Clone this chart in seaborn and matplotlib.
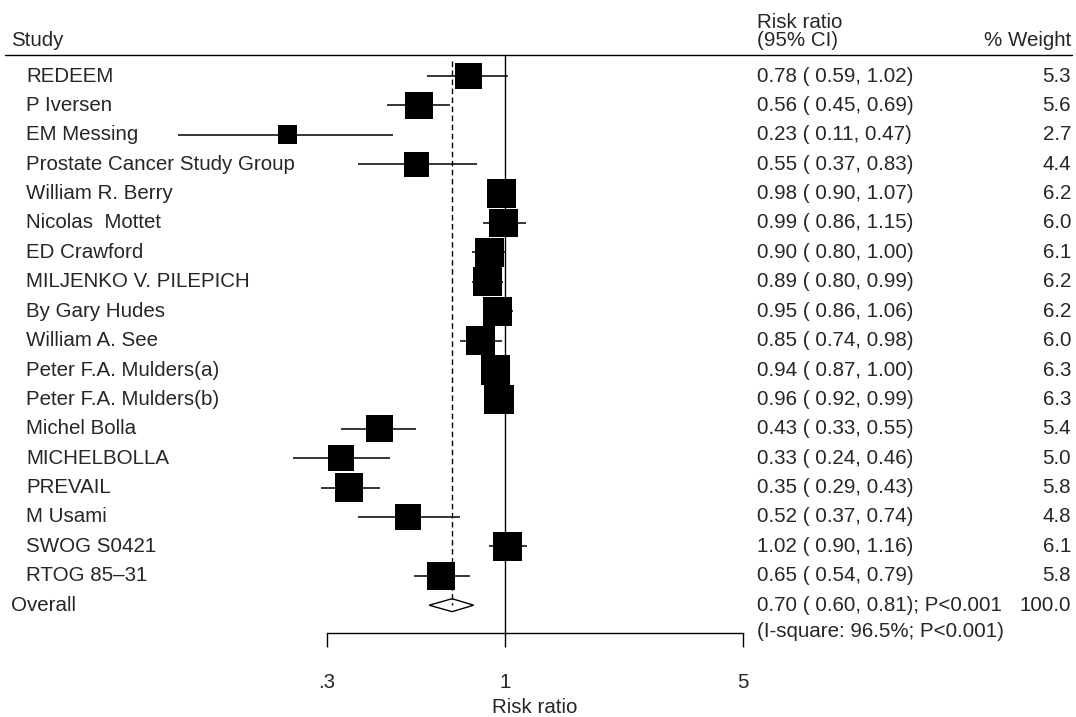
import numpy as np
import pandas as pd
import matplotlib
matplotlib.use("Agg")
import matplotlib.pyplot as plt
import matplotlib.transforms as mtransforms
from matplotlib.ticker import NullLocator, FixedLocator, FixedFormatter
import seaborn as sns

# ---------------- data ----------------
studies = ["REDEEM", "P Iversen", "EM Messing", "Prostate Cancer Study Group",
           "William R. Berry", "Nicolas  Mottet", "ED Crawford",
           "MILJENKO V. PILEPICH", "By Gary Hudes", "William A. See",
           "Peter F.A. Mulders(a)", "Peter F.A. Mulders(b)", "Michel Bolla",
           "MICHELBOLLA", "PREVAIL", "M Usami", "SWOG S0421", "RTOG 85\u201331"]
rr = [0.78, 0.56, 0.23, 0.55, 0.98, 0.99, 0.90, 0.89, 0.95, 0.85, 0.94, 0.96,
      0.43, 0.33, 0.35, 0.52, 1.02, 0.65]
ci_low = [0.59, 0.45, 0.11, 0.37, 0.90, 0.86, 0.80, 0.80, 0.86, 0.74, 0.87, 0.92,
          0.33, 0.24, 0.29, 0.37, 0.90, 0.54]
ci_high = [1.02, 0.69, 0.47, 0.83, 1.07, 1.15, 1.00, 0.99, 1.06, 0.98, 1.00, 0.99,
           0.55, 0.46, 0.43, 0.74, 1.16, 0.79]
weights = [5.3, 5.6, 2.7, 4.4, 6.2, 6.0, 6.1, 6.2, 6.2, 6.0, 6.3, 6.3,
           5.4, 5.0, 5.8, 4.8, 6.1, 5.8]
overall_rr = 0.70
overall_low = 0.60
overall_high = 0.81
overall_p = "P<0.001"
overall_weight = "100.0"
heterogeneity = "(I-square: 96.5%; P<0.001)"
xtick_values = [0.3, 1, 5]
xtick_labels = [".3", "1", "5"]

# ---------------- style ----------------
sns.set_theme(style="white")
plt.rcParams['font.family'] = ['Liberation Sans', 'DejaVu Sans']
FS = 14.8

W, H = 1076, 717
fig = plt.figure(figsize=(W / 100, H / 100), dpi=100)

# axes geometry in pixels
x_left, x_right = 326.5, 743.3
y_top, y_bot = 55.0, 633.0
row0_y, row_step = 76.0, 29.4
ax = fig.add_axes([x_left / W, 1 - y_bot / H, (x_right - x_left) / W, (y_bot - y_top) / H])
ax.set_xscale("log")
ax.set_xlim(xtick_values[0], xtick_values[-1])
ylim_top = (y_top - row0_y) / row_step
ylim_bot = (y_bot - row0_y) / row_step
ax.set_ylim(ylim_bot, ylim_top)

n = len(studies)
rows = np.arange(n)
overall_row = n

df = pd.DataFrame({"study": studies, "rr": rr, "low": ci_low, "high": ci_high,
                   "weight": weights, "row": rows})

# reference line at 1
ax.axvline(1, color="black", lw=1.0, zorder=1)
# dashed line at overall estimate
ax.vlines(overall_rr, -0.5, overall_row, colors="black", lw=1.0,
          linestyles=(0, (4, 2.5)), zorder=2)

# CI lines
ax.hlines(df["row"], df["low"], df["high"], colors="black", lw=1.1, zorder=2,
          clip_on=False)

# squares (area proportional to weight)
k = 71.3
sns.scatterplot(data=df, x="rr", y="row", size="weight",
                sizes=(k * min(weights), k * max(weights)),
                size_norm=(min(weights), max(weights)),
                marker="s", color="black", edgecolor="none", linewidth=0,
                legend=False, ax=ax, zorder=3, clip_on=False)

# overall diamond
h = 0.22
ax.fill([overall_low, overall_rr, overall_high, overall_rr],
        [overall_row, overall_row - h, overall_row, overall_row + h],
        facecolor="white", edgecolor="black", lw=1.0, zorder=1.5)

# axis styling
for s in ["left", "right", "top"]:
    ax.spines[s].set_visible(False)
ax.spines["bottom"].set_color("black")
ax.spines["bottom"].set_linewidth(1.0)
ax.xaxis.set_major_locator(FixedLocator(xtick_values))
ax.xaxis.set_major_formatter(FixedFormatter(xtick_labels))
ax.xaxis.set_minor_locator(NullLocator())
ax.tick_params(axis="x", which="major", direction="out", length=10, width=1.0,
               color="black", pad=19, labelsize=FS, bottom=True)
ax.set_yticks([])
ax.set_xlabel("Risk ratio", fontsize=FS, labelpad=4)
ax.set_ylabel("")
ax.patch.set_alpha(0)

# text columns
tr = mtransforms.blended_transform_factory(fig.transFigure, ax.transData)
def px(x):
    return x / W

hdr_row2 = (40 - row0_y) / row_step
hdr_base = (50 - row0_y) / row_step
ax.text(px(11), hdr_row2, "Study", transform=tr, fontsize=FS, va="center", ha="left")
ax.text(px(757), hdr_base, "Risk ratio\n(95% CI)", transform=tr, fontsize=FS,
        va="bottom", ha="left", linespacing=0.9)
ax.text(px(1071), hdr_row2, "% Weight", transform=tr, fontsize=FS, va="center", ha="right")
ax.plot([px(5), px(1072)], [ylim_top, ylim_top], transform=tr, color="black",
        lw=1.0, clip_on=False)

for i, r in df.iterrows():
    ax.text(px(26), r["row"], r["study"], transform=tr, fontsize=FS, va="center", ha="left")
    ax.text(px(757), r["row"], f"{r['rr']:.2f} ( {r['low']:.2f}, {r['high']:.2f})",
            transform=tr, fontsize=FS, va="center", ha="left")
    ax.text(px(1071), r["row"], f"{r['weight']:.1f}", transform=tr, fontsize=FS,
            va="center", ha="right")

ax.text(px(11), overall_row, "Overall", transform=tr, fontsize=FS, va="center", ha="left")
ax.text(px(757), overall_row,
        f"{overall_rr:.2f} ( {overall_low:.2f}, {overall_high:.2f}); {overall_p}",
        transform=tr, fontsize=FS, va="center", ha="left")
ax.text(px(1071), overall_row, overall_weight, transform=tr, fontsize=FS,
        va="center", ha="right")
ax.text(px(757), overall_row + 0.88, heterogeneity, transform=tr, fontsize=FS,
        va="center", ha="left")

fig.savefig("out.png", dpi=100, facecolor="white")
